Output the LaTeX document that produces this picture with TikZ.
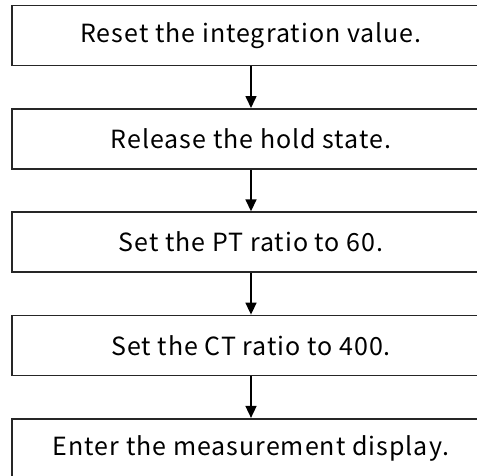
\documentclass[tikz,border=0pt]{standalone}
\usepackage{fontspec}
\setmainfont{Noto Sans CJK JP}[LetterSpace=4]
\usetikzlibrary{arrows.meta,positioning}

\begin{document}
\begin{tikzpicture}[
			x=1pt,y=-1pt,
			>={Triangle[width=11pt,length=12pt]},
			node distance=41.7pt,
			box/.style={
				draw=black!85,
				line width=1.6pt,
				align=center,
				minimum width=478pt,
				minimum height=60pt,
				font=\fontsize{25}{30}\selectfont
			}
			]
			
			\clip (0,0) rectangle (477,475);
			
			\node[box] (reset) at (251,35.5)
			{Reset the integration value.};
			
			\node[box,below=of reset] (release)
			{Release the hold state.};
			
			\node[box,below=of release] (pt)
			{Set the PT ratio to 60.};
			
			\node[box,below=of pt] (ct)
			{Set the CT ratio to 400.};
			
			\node[box,below=of ct] (disp)
			{Enter the measurement display.};
			
			\draw[->,line width=1.6pt] (reset) -- (release);
			\draw[->,line width=1.6pt] (release) -- (pt);
			\draw[->,line width=1.6pt] (pt) -- (ct);
			\draw[->,line width=1.6pt] (ct) -- (disp);
			
		\end{tikzpicture}
\end{document}
